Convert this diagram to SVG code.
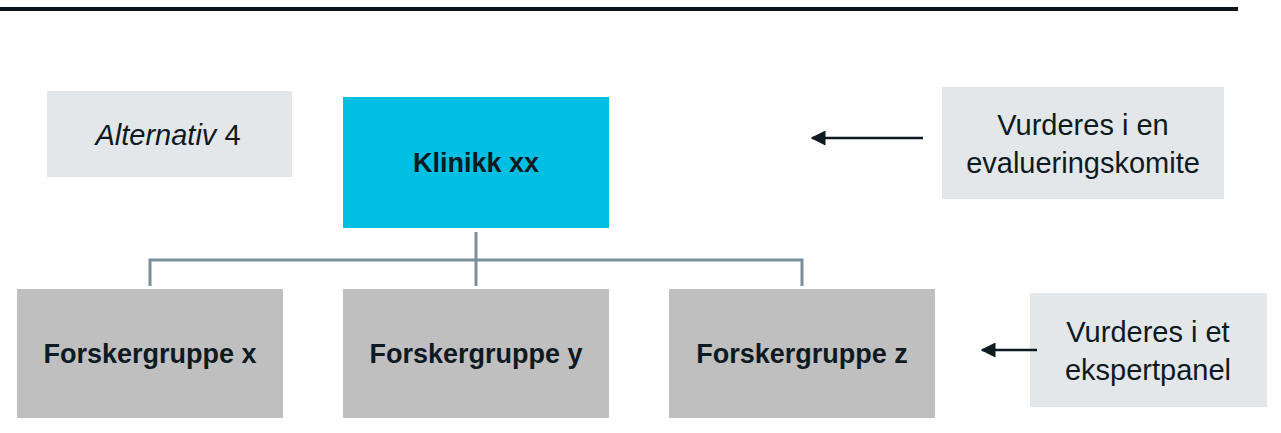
<svg xmlns="http://www.w3.org/2000/svg" width="1281" height="433" viewBox="0 0 1281 433">
<style>
.t{font-family:"Liberation Sans",Arial,sans-serif;fill:#0D1A22;text-anchor:middle}
.b{font-weight:bold;font-size:27px}
.n{font-size:29px}
.light{fill:#E3E7EA}
.gray{fill:#BFBFBF}
.conn{stroke:#7A8F9C;stroke-width:3;fill:none}
.arr{stroke:#0D1A22;stroke-width:2.5;fill:none}
</style>
<defs>
<marker id="ah" viewBox="0 0 10 10" refX="9" refY="5" markerWidth="6" markerHeight="6" orient="auto-start-reverse" markerUnits="strokeWidth">
<path d="M0,0 L10,5 L0,10 z" fill="#0D1A22"/>
</marker>
</defs>
<rect x="0" y="7" width="1238" height="4" fill="#0B141B"/>
<g id="alternativ">
<rect class="light" x="47" y="91" width="245" height="86"/>
<text class="t n" x="168" y="145"><tspan font-style="italic">Alternativ</tspan> 4</text>
</g>
<g id="klinikk">
<rect x="343" y="97" width="266" height="131" fill="#00BFE2"/>
<text class="t b" x="476" y="172">Klinikk xx</text>
</g>
<g id="fg-x">
<rect class="gray" x="17" y="289" width="266" height="129"/>
<text class="t b" x="150" y="363">Forskergruppe x</text>
</g>
<g id="fg-y">
<rect class="gray" x="343" y="289" width="266" height="129"/>
<text class="t b" x="476" y="363">Forskergruppe y</text>
</g>
<g id="fg-z">
<rect class="gray" x="669" y="289" width="266" height="129"/>
<text class="t b" x="802" y="363">Forskergruppe z</text>
</g>
<g id="evalueringskomite">
<rect class="light" x="942" y="87" width="282" height="112"/>
<text class="t n" x="1083" y="135">Vurderes i en</text>
<text class="t n" x="1083" y="173">evalueringskomite</text>
</g>
<g id="ekspertpanel">
<rect class="light" x="1030" y="293" width="237" height="114"/>
<text class="t n" x="1148" y="342">Vurderes i et</text>
<text class="t n" x="1148" y="380">ekspertpanel</text>
</g>
<g id="connectors">
<path class="conn" d="M476,232 V286 M150,286 V260 H802 V286"/>
<line class="arr" x1="923" y1="138" x2="812" y2="138" marker-end="url(#ah)"/>
<line class="arr" x1="1037" y1="350" x2="982" y2="350" marker-end="url(#ah)"/>
</g>
</svg>
